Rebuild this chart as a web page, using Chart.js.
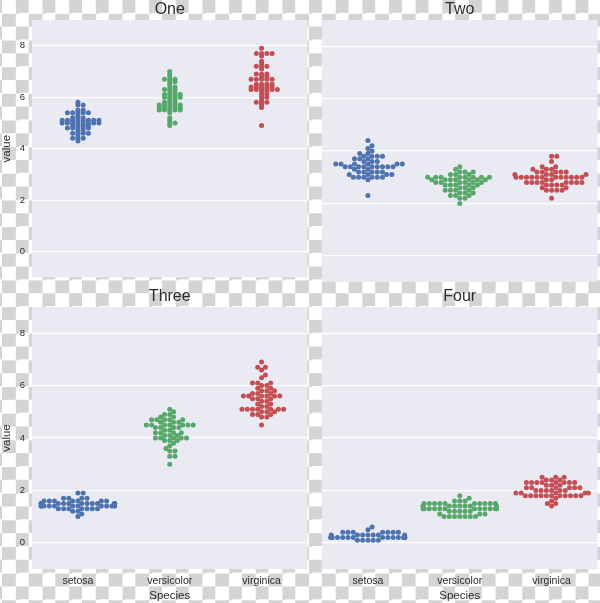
<!DOCTYPE html>
<html><head><meta charset="utf-8">
<script src="https://cdn.jsdelivr.net/npm/chart.js@4.4.0/dist/chart.umd.min.js"></script>
<style>
html,body{margin:0;padding:0;width:600px;height:603px;overflow:hidden;}
body{position:relative;background-color:#fff;
 background-image:conic-gradient(#d4d4d4 25%, #ffffff 0 50%, #d4d4d4 0 75%, #ffffff 0);
 background-size:26.67px 26.67px;background-position:2px 0;}
.p{position:absolute;}
canvas{display:block;}
</style></head>
<body>
<div class="p" style="left:0;top:0"><canvas id="c0" width="310" height="290"></canvas></div>
<div class="p" style="left:310px;top:0"><canvas id="c1" width="290" height="290"></canvas></div>
<div class="p" style="left:0;top:287px"><canvas id="c2" width="310" height="316"></canvas></div>
<div class="p" style="left:310px;top:287px"><canvas id="c3" width="290" height="316"></canvas></div>
<script>
const categories = ['setosa','versicolor','virginica'];
const panelTitles = ['One','Two','Three','Four'];
const yTickValues = [0,2,4,6,8];
const yLabel = 'value';
const xLabel = 'Species';
const colors = ['#4C72B0','#55A868','#C44E52'];

// Panel "One" (sepal length)
const setosaOne = [5.1,4.9,4.7,4.6,5.0,5.4,4.6,5.0,4.4,4.9,5.4,4.8,4.8,4.3,5.8,5.7,5.4,5.1,5.7,5.1,5.4,5.1,4.6,5.1,4.8,5.0,5.0,5.2,5.2,4.7,4.8,5.4,5.2,5.5,4.9,5.0,5.5,4.9,4.4,5.1,5.0,4.5,4.4,5.0,5.1,4.8,5.1,4.6,5.3,5.0];
const versicolorOne = [7.0,6.4,6.9,5.5,6.5,5.7,6.3,4.9,6.6,5.2,5.0,5.9,6.0,6.1,5.6,6.7,5.6,5.8,6.2,5.6,5.9,6.1,6.3,6.1,6.4,6.6,6.8,6.7,6.0,5.7,5.5,5.5,5.8,6.0,5.4,6.0,6.7,6.3,5.6,5.5,5.5,6.1,5.8,5.0,5.6,5.7,5.7,6.2,5.1,5.7];
const virginicaOne = [6.3,5.8,7.1,6.3,6.5,7.6,4.9,7.3,6.7,7.2,6.5,6.4,6.8,5.7,5.8,6.4,6.5,7.7,7.7,6.0,6.9,5.6,7.7,6.3,6.7,7.2,6.2,6.1,6.4,7.2,7.4,7.9,6.4,6.3,6.1,7.7,6.3,6.4,6.0,6.9,6.7,6.9,5.8,6.8,6.7,6.7,6.3,6.5,6.2,5.9];
// Panel "Two" (sepal width)
const setosaTwo = [3.5,3.0,3.2,3.1,3.6,3.9,3.4,3.4,2.9,3.1,3.7,3.4,3.0,3.0,4.0,4.4,3.9,3.5,3.8,3.8,3.4,3.7,3.6,3.3,3.4,3.0,3.4,3.5,3.4,3.2,3.1,3.4,4.1,4.2,3.1,3.2,3.5,3.6,3.0,3.4,3.5,2.3,3.2,3.5,3.8,3.0,3.8,3.2,3.7,3.3];
const versicolorTwo = [3.2,3.2,3.1,2.3,2.8,2.8,3.3,2.4,2.9,2.7,2.0,3.0,2.2,2.9,2.9,3.1,3.0,2.7,2.2,2.5,3.2,2.8,2.5,2.8,2.9,3.0,2.8,3.0,2.9,2.6,2.4,2.4,2.7,2.7,3.0,3.4,3.1,2.3,3.0,2.5,2.6,3.0,2.6,2.3,2.7,3.0,2.9,2.9,2.5,2.8];
const virginicaTwo = [3.3,2.7,3.0,2.9,3.0,3.0,2.5,2.9,2.5,3.6,3.2,2.7,3.0,2.5,2.8,3.2,3.0,3.8,2.6,2.2,3.2,2.8,2.8,2.7,3.3,3.2,2.8,3.0,2.8,3.0,2.8,3.8,2.8,2.8,2.6,3.0,3.4,3.1,3.0,3.1,3.1,3.1,2.7,3.2,3.3,3.0,2.5,3.0,3.4,3.0];
// Panel "Three" (petal length)
const setosaThree = [1.4,1.4,1.3,1.5,1.4,1.7,1.4,1.5,1.4,1.5,1.5,1.6,1.4,1.1,1.2,1.5,1.3,1.4,1.7,1.5,1.7,1.5,1.0,1.7,1.9,1.6,1.6,1.5,1.4,1.6,1.6,1.5,1.5,1.4,1.5,1.2,1.3,1.4,1.3,1.5,1.3,1.3,1.3,1.6,1.9,1.4,1.6,1.4,1.5,1.4];
const versicolorThree = [4.7,4.5,4.9,4.0,4.6,4.5,4.7,3.3,4.6,3.9,3.5,4.2,4.0,4.7,3.6,4.4,4.5,4.1,4.5,3.9,4.8,4.0,4.9,4.7,4.3,4.4,4.8,5.0,4.5,3.5,3.8,3.7,3.9,5.1,4.5,4.5,4.7,4.4,4.1,4.0,4.4,4.6,4.0,3.3,4.2,4.2,4.2,4.3,3.0,4.1];
const virginicaThree = [6.0,5.1,5.9,5.6,5.8,6.6,4.5,6.3,5.8,6.1,5.1,5.3,5.5,5.0,5.1,5.3,5.5,6.7,6.9,5.0,5.7,4.9,6.7,4.9,5.7,6.0,4.8,4.9,5.6,5.8,6.1,6.4,5.6,5.1,5.6,6.1,5.6,5.5,4.8,5.4,5.6,5.1,5.1,5.9,5.7,5.2,5.0,5.2,5.4,5.1];
// Panel "Four" (petal width)
const setosaFour = [0.2,0.2,0.2,0.2,0.2,0.4,0.3,0.2,0.2,0.1,0.2,0.2,0.1,0.1,0.2,0.4,0.4,0.3,0.3,0.3,0.2,0.4,0.2,0.5,0.2,0.2,0.4,0.2,0.2,0.2,0.2,0.4,0.1,0.2,0.2,0.2,0.2,0.1,0.2,0.2,0.3,0.3,0.2,0.6,0.4,0.3,0.2,0.2,0.2,0.2];
const versicolorFour = [1.4,1.5,1.5,1.3,1.5,1.3,1.6,1.0,1.3,1.4,1.0,1.5,1.0,1.4,1.3,1.4,1.5,1.0,1.5,1.1,1.8,1.3,1.5,1.2,1.3,1.4,1.4,1.7,1.5,1.0,1.1,1.0,1.2,1.6,1.5,1.6,1.5,1.3,1.3,1.3,1.2,1.4,1.2,1.0,1.3,1.2,1.3,1.3,1.1,1.3];
const virginicaFour = [2.5,1.9,2.1,1.8,2.2,2.1,1.7,1.8,1.8,2.5,2.0,1.9,2.1,2.0,2.4,2.3,1.8,2.2,2.3,1.5,2.3,2.0,2.0,1.8,2.1,1.8,1.8,1.8,2.1,1.6,1.9,2.0,2.2,1.5,1.4,2.3,2.4,1.8,1.8,2.1,2.4,2.3,1.9,2.3,2.5,2.3,1.9,2.0,2.3,1.8];

const panelSeries = [
  [setosaOne, versicolorOne, virginicaOne],
  [setosaTwo, versicolorTwo, virginicaTwo],
  [setosaThree, versicolorThree, virginicaThree],
  [setosaFour, versicolorFour, virginicaFour]
];

const FONT = "'Liberation Sans', Arial, sans-serif";
const TXT = '#2b2b2b';
const POINT_R = 2.5;
const SWARM_D = 5.0;                          // swarm spacing (px)
const SWARM_Y_STRETCH = [2.4, 1.2, 1.3, 1.15]; // each facet's swarm was laid out on a different y-scale
const HALF_W = 0.4;

// beeswarm layout (as in seaborn): offsets in pixels, then back to data units
function swarmOffsets(values, pxY, pxX) {
  const d = SWARM_D;
  const order = values.map((v,i)=>i).sort((a,b)=>values[a]-values[b]);
  const placed = [];
  const res = new Array(values.length);
  for (const i of order) {
    const y = values[i]*pxY;
    const nb = placed.filter(p => Math.abs(p.y - y) < d);
    const cands = [0];
    for (const n of nb) {
      const dy = y - n.y;
      const dx = Math.sqrt(Math.max(0, d*d - dy*dy)) * 1.05;
      cands.push(n.x + dx, n.x - dx);
    }
    const sorted = cands.map((c,k)=>[c,k]).sort((a,b)=>(Math.abs(a[0])-Math.abs(b[0])) || (a[1]-b[1])).map(a=>a[0]);
    let x = sorted[sorted.length-1];
    for (const c of sorted) {
      if (nb.every(n => (c-n.x)*(c-n.x) + (y-n.y)*(y-n.y) >= d*d - 1e-6)) { x = c; break; }
    }
    placed.push({x, y});
    res[i] = x;
  }
  return res.map(x => Math.max(-HALF_W, Math.min(HALF_W, x/pxX)));
}

const bgPlugin = {
  id: 'plotBg',
  beforeDraw(chart) {
    const {ctx, chartArea: a} = chart;
    ctx.save();
    ctx.fillStyle = '#EAEAF2';
    ctx.fillRect(a.left, a.top, a.right - a.left, a.bottom - a.top);
    ctx.restore();
  }
};

function makeChart(idx) {
  const isLeft = idx % 2 === 0;
  const isBottom = idx >= 2;
  const datasets = categories.map((cat, c) => ({
    label: cat,
    data: panelSeries[idx][c].map(v => ({x: c, y: v})),
    backgroundColor: colors[c],
    borderColor: colors[c],
    borderWidth: 0,
    pointRadius: POINT_R,
    pointHoverRadius: POINT_R
  }));
  const chart = new Chart(document.getElementById('c' + idx), {
    type: 'scatter',
    data: { datasets },
    plugins: [bgPlugin],
    options: {
      responsive: false,
      animation: false,
      events: [],
      layout: { padding: { left: 0, right: isLeft ? 2 : 1, top: 0, bottom: 0 } },
      plugins: {
        legend: { display: false },
        tooltip: { enabled: false },
        title: {
          display: true, text: panelTitles[idx], fullSize: false,
          color: TXT, font: { family: FONT, size: 16, weight: 'normal', lineHeight: 1.2 },
          padding: { top: 0, bottom: 0.8 }
        }
      },
      scales: {
        x: {
          type: 'linear', min: -0.5, max: 2.5,
          afterBuildTicks: s => { s.ticks = categories.map((c, i) => ({ value: i })); },
          afterFit: s => { s.height = isBottom ? 34 : 8; },
          grid: { display: false, drawTicks: false },
          border: { display: false },
          ticks: {
            display: isBottom, padding: 6, color: TXT, maxRotation: 0, autoSkip: false,
            font: { family: FONT, size: 10.5 },
            callback: v => categories[v]
          },
          title: {
            display: isBottom, text: xLabel, color: TXT,
            font: { family: FONT, size: 11.5 }, padding: { top: 0, bottom: 0 }
          }
        },
        y: {
          type: 'linear', min: -1, max: 9,
          afterBuildTicks: s => { s.ticks = yTickValues.map(v => ({ value: v })); },
          afterFit: s => { s.width = isLeft ? 32 : 12; },
          grid: { display: true, color: '#ffffff', lineWidth: 1.2, drawTicks: false },
          border: { display: false },
          ticks: {
            display: isLeft, padding: 7, color: TXT,
            font: { family: FONT, size: 9.5 }
          },
          title: {
            display: isLeft, text: yLabel, color: TXT,
            font: { family: FONT, size: 11.5 }, padding: { top: 0, bottom: 0 }
          }
        }
      }
    }
  });
  const xs = chart.scales.x, ys = chart.scales.y;
  const pxY = Math.abs(ys.getPixelForValue(1) - ys.getPixelForValue(0)) * SWARM_Y_STRETCH[idx];
  const pxX = Math.abs(xs.getPixelForValue(1) - xs.getPixelForValue(0));
  chart.data.datasets.forEach((ds, c) => {
    const vals = panelSeries[idx][c];
    const offs = swarmOffsets(vals, pxY, pxX);
    ds.data = vals.map((v, i) => ({ x: c + offs[i], y: v }));
  });
  chart.update('none');
  return chart;
}
[0,1,2,3].forEach(makeChart);
</script>
</body></html>
